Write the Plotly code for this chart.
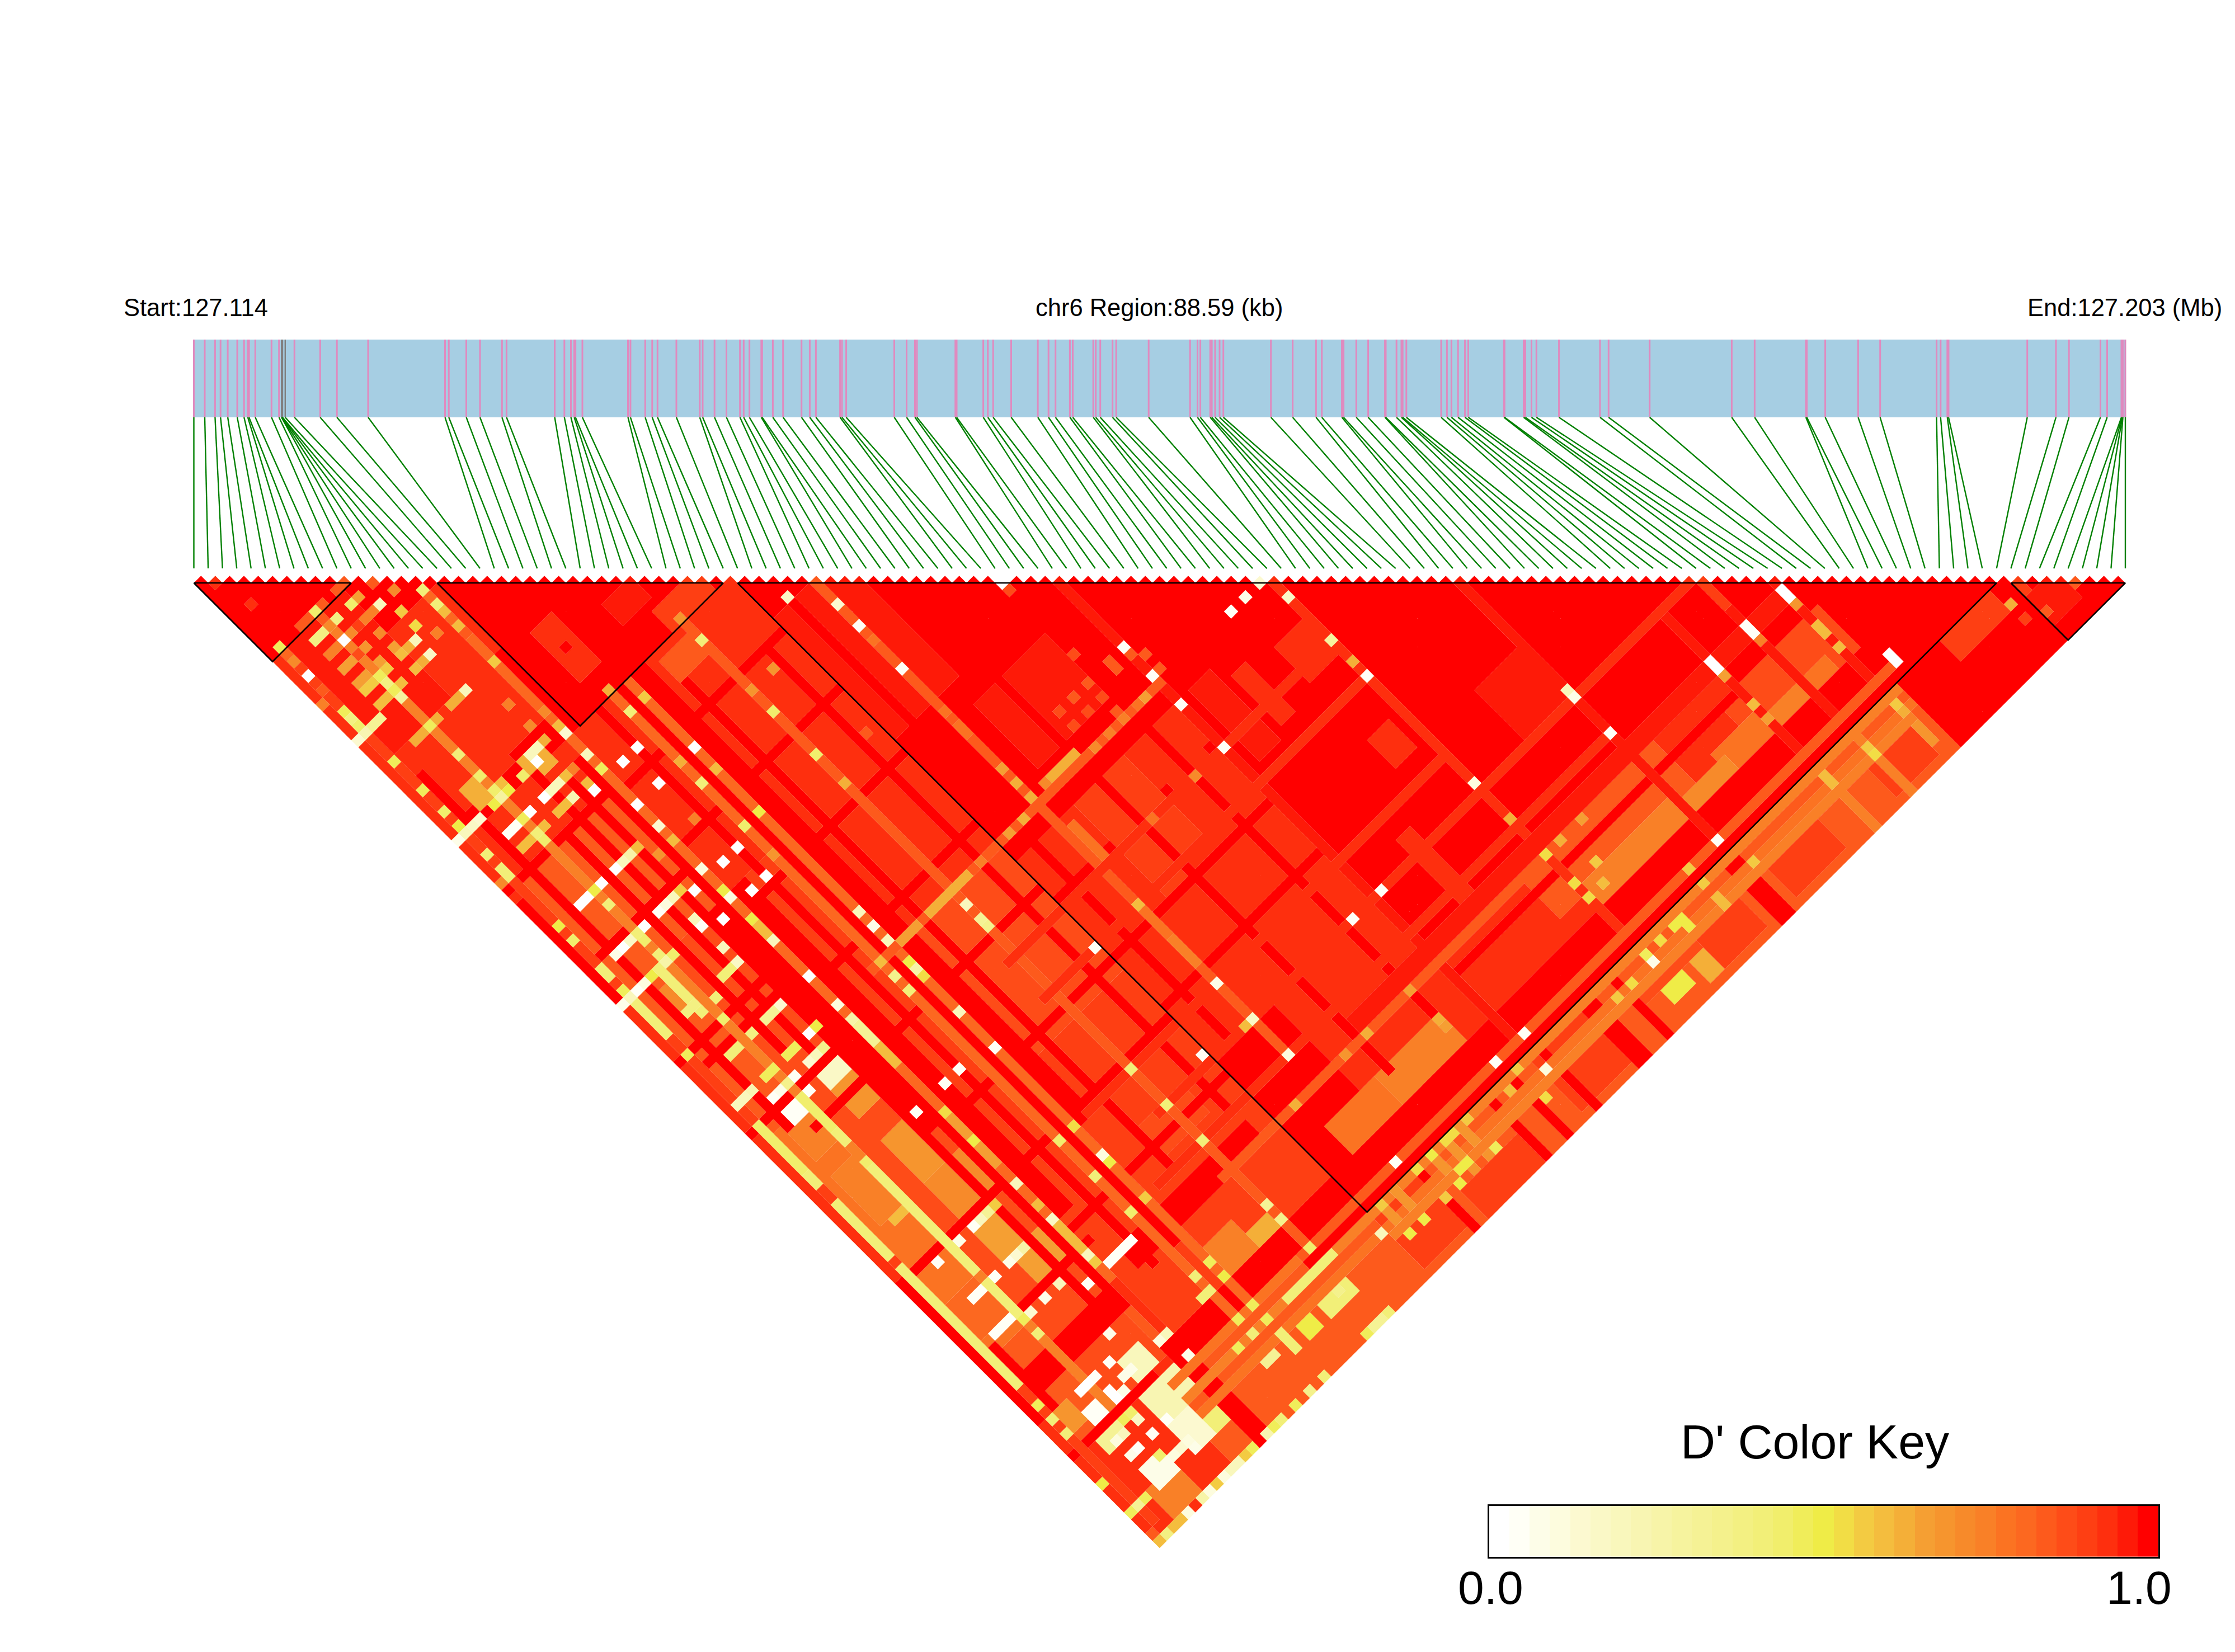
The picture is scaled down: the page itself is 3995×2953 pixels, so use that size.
import plotly.graph_objects as go

START_LABEL = "Start:127.114"
MID_LABEL = "chr6 Region:88.59 (kb)"
END_LABEL = "End:127.203 (Mb)"
KEY_TITLE = "D' Color Key"
KEY_LOW, KEY_HIGH = "0.0", "1.0"

# SNP offsets from the start of the region; the whole span is REGION_SPAN units
REGION_SPAN = 3452.5
SNP_OFFSETS = [
    0, 19.5, 37.9, 47.7, 60.6, 77.6, 89.7, 96.4, 98.6, 109.8, 138.8, 152.2, 156.7, 157.1, 157.9, 158.5,
    163.3, 179.8, 225.8, 255.7, 311.5, 449, 455.7, 487, 511.5, 550.8, 558.9, 645, 662.3, 674, 679.9, 682.1,
    694.5, 776, 780.4, 806.8, 819.3, 828.8, 862.5, 904.3, 909.5, 930.7, 952, 976.2, 982.8, 993.1, 1014.3,
    1015.8, 1034.9, 1053.2, 1086.2, 1100.9, 1111.9, 1155.1, 1158.5, 1166.1, 1252, 1274, 1289, 1292.5, 1361.2,
    1363.5, 1411.1, 1419.2, 1428.7, 1461, 1508.6, 1527.7, 1540.2, 1565.9, 1571, 1607.7, 1612.1, 1620.2,
    1642.1, 1648.7, 1706.7, 1780.7, 1794, 1799.1, 1816.7, 1819.6, 1825.5, 1833.5, 1840.2, 1925.2, 1964.1,
    2005.9, 2016.2, 2052.1, 2055.1, 2077.8, 2099.1, 2129.1, 2130.5, 2149.7, 2158.5, 2160.7, 2167.3, 2229.6,
    2239.9, 2247.9, 2259.7, 2272.1, 2278, 2341.8, 2342.8, 2377, 2380, 2391, 2399.8, 2440.1, 2513.5, 2528.8,
    2602.2, 2748.9, 2789.9, 2881.5, 2883.1, 2916.1, 2974.9, 3014.2, 3115.1, 3122.3, 3134.3, 3136.5, 3277.2,
    3328.5, 3351.7, 3408, 3420, 3445.5, 3446.4, 3447.2, 3448.1, 3452.5,
]
GREY_SNPS = [12, 13, 14, 15, 16]
LD_BLOCKS = [(0, 11), (17, 37), (38, 126), (127, 135)]

KEY_COLOURS = [
    "#FFFFFF", "#FFFFF6", "#FDFDE8", "#FDFCDE", "#FCF9D0", "#FAF8C6", "#F9F7BC", "#F8F5B2", "#F7F4A8", "#F6F39E",
    "#F5F295", "#F4F18C", "#F3F082", "#F2EF78", "#F1EE6C", "#F0ED5A", "#EFEC47", "#F2DD45", "#F3CB42", "#F4BD3E",
    "#F4AF38", "#F59F33", "#F6952E", "#F78A2A", "#F98027", "#FB7322", "#FC6820", "#FD5A1C", "#FE4C18", "#FE3F13",
    "#FE2F0E", "#FE1A08", "#FF0000",
]

# D' in percent, stored as (first i, last i, first j, last j, value) ranges of the SNP-pair matrix
BROAD_TONES = [
    (0, 37, 38, 135, 94), (0, 14, 44, 122, 84), (1, 5, 80, 110, 78), (7, 13, 60, 122, 86), (16, 37, 60, 100, 92),
    (16, 37, 100, 122, 90), (25, 37, 44, 90, 94), (25, 37, 76, 92, 88), (38, 60, 78, 105, 94), (46, 60, 105, 122, 94),
    (28, 33, 105, 108, 88), (60, 100, 112, 121, 94), (72, 90, 114, 119, 84), (11, 111, 127, 135, 85), (12, 37, 125, 135, 84),
    (38, 46, 44, 60, 97), (46, 56, 64, 72, 97), (1, 5, 24, 29, 94), (3, 9, 27, 35, 94), (10, 14, 27, 34, 94),
    (0, 0, 12, 135, 94), (2, 9, 12, 26, 96), (10, 16, 18, 26, 94), (19, 31, 38, 42, 94), (30, 37, 41, 44, 94),
    (27, 31, 39, 41, 84), (20, 22, 28, 34, 94), (27, 30, 31, 33, 97), (30, 35, 35, 37, 92), (2, 5, 46, 49, 84),
    (3, 5, 81, 84, 76), (3, 5, 87, 93, 76), (2, 5, 99, 104, 78), (2, 5, 104, 108, 80), (3, 6, 131, 134, 76),
    (4, 5, 62, 64, 72), (9, 12, 81, 84, 68), (9, 12, 88, 93, 68), (9, 13, 94, 98, 72), (9, 12, 100, 104, 66), (10, 13, 105, 108, 66),
    (2, 3, 119, 121, 68), (9, 13, 124, 127, 22), (9, 11, 128, 131, 12), (3, 5, 123, 125, 30), (12, 14, 129, 131, 42),
    (4, 6, 129, 131, 5), (10, 12, 120, 122, 20), (9, 11, 78, 80, 15), (4, 5, 121, 122, 2), (4, 5, 79, 80, 2),
    (4, 6, 34, 36, 62), (10, 12, 36, 38, 63), (71, 74, 81, 85, 94), (71, 73, 94, 97, 94), (82, 87, 98, 104, 97),
    (98, 111, 116, 122, 88), (105, 108, 120, 122, 78), (100, 104, 120, 122, 75), (94, 99, 119, 121, 78), (88, 94, 120, 122, 72),
    (80, 88, 119, 122, 76), (75, 84, 119, 122, 75), (48, 56, 118, 121, 76), (41, 47, 118, 121, 78),
    (28, 30, 120, 122, 62), (24, 27, 118, 121, 76), (74, 76, 132, 133, 50), (78, 81, 132, 134, 62), (28, 31, 130, 131, 42),
    (25, 26, 130, 131, 50), (118, 124, 127, 129, 92), (115, 119, 130, 133, 95), (112, 116, 131, 134, 97),
    (127, 130, 130, 133, 97), (60, 66, 128, 134, 90), (90, 96, 129, 134, 91), (72, 79, 129, 131, 88), (104, 109, 131, 134, 92),
    (80, 85, 131, 134, 92), (38, 43, 128, 134, 90), (46, 53, 132, 135, 90),
]
RED_BANDS = [
    (14, 15, 122, 135, 100), (0, 11, 123, 123, 100), (0, 14, 114, 116, 100), (16, 126, 122, 124, 100),
    (30, 115, 126, 126, 100), (44, 44, 126, 135, 100), (54, 54, 126, 135, 100), (57, 57, 126, 135, 100),
    (61, 61, 126, 135, 100), (67, 68, 126, 135, 100), (71, 71, 126, 135, 100), (87, 88, 126, 135, 100),
    (112, 126, 130, 135, 100), (13, 13, 60, 90, 100), (16, 17, 60, 105, 100), (1, 14, 70, 70, 100),
    (5, 15, 82, 82, 100), (7, 16, 109, 109, 100), (8, 8, 44, 75, 100), (18, 35, 112, 114, 100),
    # thin fully linked rows across the region left of the block
    (19, 19, 38, 115, 100), (22, 22, 38, 115, 100), (24, 25, 38, 100, 100), (27, 27, 42, 110, 100),
    (35, 35, 45, 110, 100), (40, 40, 44, 120, 100), (49, 49, 60, 118, 100),
    (56, 56, 60, 118, 100), (3, 3, 38, 80, 100), (10, 10, 38, 78, 100),
    (12, 12, 40, 115, 100), (14, 14, 40, 115, 100), (2, 2, 110, 118, 100), (0, 0, 46, 60, 100), (0, 0, 100, 118, 100),
    # thin fully linked columns
    (16, 37, 45, 45, 100), (16, 37, 53, 53, 100), (16, 37, 62, 62, 100), (16, 37, 72, 72, 100),
    (16, 37, 81, 81, 100), (16, 37, 91, 91, 100), (16, 37, 99, 99, 100), (16, 37, 107, 107, 100),
    (0, 14, 44, 44, 100), (0, 14, 55, 55, 100), (0, 14, 68, 68, 100), (0, 14, 78, 78, 100), (0, 14, 99, 99, 100),
    (38, 60, 83, 83, 100), (38, 60, 91, 91, 100), (38, 60, 98, 98, 100),
    (46, 60, 110, 110, 100), (60, 100, 116, 116, 100),
]
LOW_STRIPES = [
    (1, 1, 12, 135, 90), (6, 6, 13, 122, 76), (15, 15, 17, 113, 80), (21, 21, 38, 125, 82), (23, 23, 38, 125, 82),
    (31, 31, 38, 125, 84), (43, 43, 44, 110, 84), (60, 60, 61, 125, 96), (75, 75, 76, 125, 95), (88, 88, 89, 125, 96),
    (100, 100, 105, 125, 96), (105, 105, 106, 125, 96), (110, 110, 111, 125, 96), (57, 58, 78, 85, 94), (54, 55, 78, 87, 94),
    (50, 52, 78, 88, 92), (46, 48, 78, 90, 92), (66, 67, 80, 86, 94), (62, 64, 78, 87, 97), (66, 67, 103, 112, 94),
    (44, 44, 79, 84, 78), (43, 43, 90, 93, 78), (43, 43, 94, 97, 75), (15, 15, 90, 97, 65), (15, 15, 106, 109, 60),
    (15, 15, 63, 66, 58), (5, 5, 60, 66, 40),
    (25, 75, 100, 100, 94), (30, 75, 89, 89, 94), (30, 75, 84, 84, 94), (20, 60, 75, 75, 84), (30, 104, 105, 105, 94),
    (30, 80, 114, 114, 84), (50, 110, 112, 113, 96), (25, 88, 110, 110, 94), (12, 100, 125, 125, 78), (30, 112, 125, 125, 84),
    (12, 111, 127, 127, 75), (12, 111, 129, 129, 78), (26, 32, 127, 127, 42), (28, 33, 75, 75, 63), (45, 49, 74, 74, 63),
    (100, 104, 105, 105, 94), (105, 105, 106, 109, 92), (110, 110, 130, 133, 70), (1, 1, 78, 84, 45), (1, 1, 85, 86, 42),
    (1, 1, 89, 96, 42), (1, 1, 98, 103, 42), (1, 1, 104, 108, 42), (1, 1, 109, 114, 42), (1, 1, 60, 65, 42),
    (6, 6, 79, 83, 45), (6, 6, 84, 85, 42), (6, 6, 88, 98, 42), (6, 6, 97, 103, 40), (6, 6, 105, 110, 42),
    (23, 23, 129, 131, 40), (24, 26, 75, 75, 66), (100, 100, 127, 135, 74), (105, 105, 127, 135, 74), (50, 50, 127, 131, 70),
    (48, 48, 127, 131, 70), (46, 46, 127, 131, 70), (41, 41, 127, 131, 70), (39, 39, 127, 131, 70), (38, 110, 130, 130, 76),
]
# Single pairs as (i, j, value)
PAIR_VALUES = [
    (1, 11, 47), (2, 6, 94), (6, 11, 45), (4, 11, 85), (5, 11, 85), (7, 11, 85), (9, 11, 85), (10, 11, 85), (1, 2, 93),
    (10, 13, 66), (9, 13, 44), (7, 13, 38), (6, 13, 72), (6, 12, 84), (5, 13, 38), (4, 13, 38), (6, 15, 0), (7, 15, 72),
    (8, 15, 90), (11, 15, 20), (10, 15, 75), (9, 15, 75), (13, 15, 72), (12, 13, 84), (15, 17, 42), (12, 17, 55),
    (15, 19, 42), (15, 20, 58), (12, 19, 53), (13, 21, 76), (11, 20, 18), (10, 20, 62), (9, 20, 58), (9, 19, 66),
    (15, 22, 60), (15, 23, 84), (11, 22, 16), (10, 22, 63), (9, 22, 60), (9, 17, 72), (7, 17, 70), (6, 17, 86),
    (5, 17, 66), (4, 17, 66), (5, 15, 76), (4, 15, 76), (1, 13, 72), (1, 12, 82), (1, 15, 0), (1, 17, 85), (0, 18, 76),
    (7, 19, 66), (7, 20, 57), (5, 19, 66), (4, 19, 66), (4, 20, 56), (5, 20, 56), (6, 20, 48), (6, 21, 36), (6, 22, 46),
    (6, 23, 28), (7, 22, 60), (5, 22, 58), (4, 22, 58), (1, 20, 48), (1, 21, 38), (1, 22, 44), (1, 23, 22), (0, 23, 14),
    (2, 23, 30), (3, 23, 30), (1, 27, 47), (6, 27, 48), (7, 27, 62), (5, 27, 62), (4, 27, 62), (6, 31, 42), (9, 27, 62),
    (10, 27, 62), (11, 27, 20), (1, 31, 46), (15, 27, 55), (13, 31, 75), (15, 34, 72), (15, 36, 58), (15, 37, 12), (13, 34, 72),
    (1, 34, 45), (6, 34, 45), (1, 36, 50), (1, 37, 20), (2, 37, 15), (3, 37, 14), (0, 37, 5), (5, 37, 50), (6, 36, 44),
    (7, 37, 50), (6, 37, 28), (7, 36, 60), (9, 37, 45), (11, 36, 20), (11, 37, 0), (12, 36, 20), (13, 36, 62),
    (11, 40, 20), (10, 40, 20), (9, 40, 0), (12, 40, 60), (13, 40, 75), (11, 42, 22), (10, 42, 60), (9, 42, 60),
    (7, 40, 0), (6, 40, 48), (5, 40, 2), (4, 40, 2), (7, 42, 60), (6, 42, 42), (6, 43, 45), (5, 42, 60), (4, 42, 60),
    (1, 40, 42), (1, 42, 42), (1, 43, 42), (0, 43, 72), (15, 40, 20), (15, 42, 48), (13, 42, 60), (13, 43, 0),
    (17, 43, 0), (19, 43, 0), (18, 47, 0), (15, 47, 0), (15, 50, 12), (15, 52, 60), (23, 47, 0), (21, 47, 62), (23, 50, 58),
    (21, 50, 40), (21, 40, 42), (23, 40, 56), (21, 37, 64), (31, 40, 42), (31, 37, 70), (31, 47, 70), (34, 47, 70), (31, 50, 44),
    (31, 56, 44), (40, 43, 15), (43, 47, 14), (23, 56, 50), (21, 56, 45), (18, 52, 75), (19, 57, 0), (21, 60, 70),
    (17, 57, 0), (15, 56, 10), (19, 61, 0), (17, 61, 0), (15, 60, 10), (15, 59, 50), (13, 57, 0), (12, 56, 56), (13, 52, 70),
    (11, 56, 20), (10, 56, 10), (9, 56, 2), (12, 50, 60), (11, 50, 25), (10, 50, 18), (9, 50, 0), (7, 50, 0), (6, 50, 50),
    (5, 50, 0), (4, 50, 0), (6, 52, 42), (1, 50, 50), (1, 52, 45), (7, 56, 0), (6, 56, 42), (6, 57, 45), (5, 56, 15),
    (4, 56, 0), (3, 56, 5), (6, 59, 42), (7, 60, 44), (6, 60, 25), (4, 60, 50), (3, 60, 10), (2, 60, 3), (1, 60, 18), (0, 60, 5),
    (11, 59, 20), (11, 60, 2), (13, 61, 0), (15, 66, 18), (15, 63, 50), (11, 63, 20), (11, 65, 16), (10, 65, 42), (9, 65, 42),
    (15, 71, 0), (1, 56, 42), (1, 57, 40), (1, 59, 48), (21, 31, 100), (1, 68, 47),
    (1, 75, 20), (2, 75, 20), (3, 75, 22), (5, 75, 46), (6, 75, 46), (8, 75, 46), (9, 75, 48), (11, 75, 0), (12, 75, 50),
    (4, 77, 4), (5, 77, 5), (7, 77, 3), (6, 77, 35), (9, 77, 14), (10, 77, 20), (11, 77, 35), (7, 79, 4),
    (9, 71, 30), (10, 71, 30), (11, 71, 14), (7, 71, 38), (4, 71, 42), (5, 71, 42), (4, 65, 38), (5, 65, 38), (7, 66, 42), (6, 68, 45),
    (15, 75, 10), (15, 77, 25), (15, 78, 30), (15, 79, 30), (15, 80, 30), (15, 81, 58), (15, 82, 58), (15, 83, 58), (21, 79, 42),
    (23, 84, 20), (23, 89, 2), (19, 88, 2), (17, 88, 2), (13, 88, 2), (15, 90, 52), (15, 94, 50), (15, 100, 20), (15, 103, 58),
    (15, 105, 15), (21, 100, 45), (23, 100, 52), (23, 104, 10), (23, 105, 50), (21, 105, 42), (31, 100, 42), (31, 105, 42),
    (23, 110, 55), (21, 110, 45), (19, 112, 2), (18, 112, 2), (17, 112, 2), (16, 112, 2), (15, 110, 20), (15, 111, 55), (13, 112, 2),
    (11, 110, 20), (9, 110, 5), (10, 105, 12), (9, 105, 5), (11, 105, 25), (7, 105, 3), (4, 105, 3), (5, 105, 3), (4, 100, 3), (7, 100, 5),
    (4, 94, 60), (5, 94, 60), (11, 100, 30), (10, 100, 20), (9, 100, 3), (12, 100, 55), (6, 88, 45),
    (4, 109, 3), (3, 109, 3), (5, 109, 3), (7, 110, 12), (6, 112, 42), (11, 117, 5), (6, 110, 46),
    (5, 119, 0), (6, 119, 0), (7, 121, 0), (7, 122, 0), (8, 122, 5), (7, 119, 2), (9, 119, 2), (9, 121, 5), (10, 121, 5),
    (7, 124, 45), (7, 125, 15), (6, 124, 46), (4, 125, 10), (5, 125, 18), (9, 127, 2), (7, 127, 2), (5, 127, 2), (4, 127, 5),
    (7, 130, 8), (8, 130, 12), (6, 129, 44), (9, 130, 10), (9, 131, 5), (1, 117, 47), (1, 119, 40), (1, 121, 40), (0, 127, 50),
    (0, 131, 46), (1, 131, 30), (2, 131, 47), (4, 135, 8), (6, 135, 25), (7, 135, 8), (8, 135, 55), (9, 135, 8), (10, 135, 20),
    (11, 135, 20), (12, 135, 55), (13, 135, 47), (15, 135, 22), (16, 135, 48), (17, 135, 42), (19, 135, 47), (21, 135, 35),
    (23, 135, 42), (0, 135, 58), (1, 135, 38), (2, 135, 60), (3, 135, 60), (0, 134, 84), (1, 134, 94),
    (43, 100, 5), (43, 105, 15), (42, 105, 60), (37, 104, 2), (43, 110, 8), (56, 114, 66), (50, 114, 62), (47, 114, 70), (40, 114, 63),
    (31, 110, 42), (56, 118, 62), (56, 119, 66), (43, 125, 2), (57, 125, 2), (61, 125, 2), (60, 129, 8), (37, 129, 18), (39, 131, 50),
    (58, 131, 52), (58, 127, 55), (56, 128, 60), (48, 130, 50), (47, 130, 50), (46, 131, 50), (44, 131, 55), (49, 127, 52), (48, 127, 52),
    (51, 127, 55), (51, 131, 48), (46, 127, 50), (44, 127, 52), (39, 127, 55), (41, 131, 50), (31, 125, 45), (30, 130, 35),
    (29, 135, 47), (30, 135, 30), (31, 135, 30), (32, 135, 42), (31, 121, 35), (31, 119, 30), (23, 119, 48), (21, 119, 42), (23, 121, 50),
    (21, 121, 42), (20, 121, 42), (15, 121, 20), (14, 121, 10), (15, 124, 6), (23, 125, 46), (21, 125, 48), (23, 127, 46), (21, 127, 40),
    (19, 127, 47), (21, 130, 30), (20, 130, 30),
    (110, 112, 0), (110, 113, 0), (110, 114, 68), (105, 112, 3), (105, 113, 3), (105, 114, 75), (100, 112, 0), (100, 113, 0), (100, 114, 65),
    (88, 105, 5), (88, 104, 20), (88, 110, 2), (113, 124, 0), (113, 125, 0), (88, 125, 2), (125, 129, 62), (110, 117, 60), (110, 118, 60), (110, 120, 60),
    (110, 128, 56), (110, 129, 62), (105, 129, 56), (105, 130, 52), (100, 128, 58), (100, 129, 58), (100, 118, 60), (100, 120, 65),
    (89, 129, 55), (75, 114, 53), (75, 109, 63), (80, 114, 65), (77, 114, 63), (75, 118, 52), (75, 120, 52), (78, 118, 55), (77, 120, 60),
    (79, 128, 50), (80, 128, 50), (80, 129, 50), (77, 128, 52), (75, 128, 48), (75, 129, 5), (72, 129, 52), (70, 129, 55), (84, 125, 55), (84, 127, 55),
    (84, 129, 58), (84, 130, 60), (125, 131, 92), (131, 132, 84), (127, 128, 90), (127, 129, 90), (127, 132, 85),
    (56, 57, 0), (56, 58, 88), (74, 75, 12), (72, 75, 6), (70, 75, 2), (75, 78, 15), (75, 84, 28), (75, 87, 62), (75, 89, 2),
    (60, 70, 2), (60, 71, 84), (60, 74, 2), (60, 78, 2), (58, 75, 66), (57, 75, 78), (43, 56, 2), (43, 50, 2), (60, 84, 2),
    (75, 104, 10), (61, 105, 2), (57, 105, 2), (37, 89, 2), (43, 89, 60), (31, 79, 30), (31, 80, 35), (31, 77, 20), (23, 70, 20),
    (23, 72, 5), (23, 74, 20), (23, 77, 50), (23, 78, 25), (23, 79, 52), (21, 77, 35), (21, 75, 58), (43, 70, 66), (43, 72, 62),
    (43, 74, 62), (45, 74, 72), (41, 75, 62), (39, 75, 66), (31, 60, 62), (43, 62, 78), (43, 64, 78), (43, 65, 78), (43, 52, 78), (35, 75, 75),
    (51, 75, 72), (53, 75, 75), (55, 75, 74), (56, 84, 72), (50, 84, 78), (53, 70, 84), (53, 72, 86), (55, 72, 86), (55, 74, 84), (51, 70, 86),
    (51, 72, 88), (56, 67, 88), (55, 70, 84), (61, 72, 85), (61, 74, 85), (58, 71, 84), (58, 70, 84), (36, 58, 84), (21, 31, 100),
]

N_SNPS = len(SNP_OFFSETS)

# Fill the upper triangle of the D' matrix from the ranges and pairs above
d_prime = [[100] * N_SNPS for _ in range(N_SNPS)]
for table in (BROAD_TONES, RED_BANDS, LOW_STRIPES):
    for i0, i1, j0, j1, value in table:
        for i in range(i0, i1 + 1):
            for j in range(max(j0, i + 1), j1 + 1):
                if j < N_SNPS:
                    d_prime[i][j] = value
for i, j, value in PAIR_VALUES:
    d_prime[i][j] = value

# One filled trace per colour-key step; each pair is a diamond in SNP units
paths = {level: ([], []) for level in range(len(KEY_COLOURS))}
for i in range(N_SNPS - 1):
    for j in range(i + 1, N_SNPS):
        level = int(d_prime[i][j] / 100 * (len(KEY_COLOURS) - 1) + 0.5)
        xs, ys = paths[level]
        cx, cy = (i + j) / 2, j - i
        xs += [cx - 0.5, cx, cx + 0.5, cx, cx - 0.5, None]
        ys += [cy, cy - 1, cy, cy + 1, cy, None]

UNITS_PER_SPAN = (N_SNPS - 1) / REGION_SPAN
track_x = [o * UNITS_PER_SPAN for o in SNP_OFFSETS]

BAR_TOP, BAR_BOTTOM, LEADER_END = -33.04, -22.16, -1.03

fig = go.Figure()

fig.add_trace(go.Scatter(
    x=[0, N_SNPS - 1, N_SNPS - 1, 0, 0], y=[BAR_TOP, BAR_TOP, BAR_BOTTOM, BAR_BOTTOM, BAR_TOP],
    mode="lines", fill="toself", fillcolor="#A6CEE3", line=dict(width=0), hoverinfo="skip",
))

pink_x, pink_y, grey_x, grey_y = [], [], [], []
leader_x, leader_y = [], []
for idx, tx in enumerate(track_x):
    if idx in GREY_SNPS:
        grey_x += [tx, tx, None]
        grey_y += [BAR_TOP, BAR_BOTTOM, None]
    else:
        pink_x += [tx, tx, None]
        pink_y += [BAR_TOP, BAR_BOTTOM, None]
    leader_x += [tx, idx, None]
    leader_y += [BAR_BOTTOM, LEADER_END, None]

fig.add_trace(go.Scatter(x=pink_x, y=pink_y, mode="lines", line=dict(color="#E08ABF", width=3), hoverinfo="skip"))
fig.add_trace(go.Scatter(x=grey_x, y=grey_y, mode="lines", line=dict(color="#808080", width=2.4), hoverinfo="skip"))
fig.add_trace(go.Scatter(x=leader_x, y=leader_y, mode="lines", line=dict(color="#008000", width=2.4), hoverinfo="skip"))

for level, (xs, ys) in paths.items():
    if xs:
        fig.add_trace(go.Scatter(
            x=xs, y=ys, mode="lines", fill="toself", fillcolor=KEY_COLOURS[level],
            line=dict(width=0), hoverinfo="skip",
        ))

for first, last in LD_BLOCKS:
    fig.add_trace(go.Scatter(
        x=[first, last, (first + last) / 2, first],
        y=[1, 1, 1 + last - first, 1],
        mode="lines", line=dict(color="#000000", width=2.6), hoverinfo="skip",
    ))

# Colour key: a one-row heatmap on its own axes
levels = list(range(len(KEY_COLOURS)))
scale = []
for k, colour in enumerate(KEY_COLOURS):
    scale += [[k / len(KEY_COLOURS), colour], [(k + 1) / len(KEY_COLOURS), colour]]
fig.add_trace(go.Heatmap(
    z=[levels], x=levels, y=[0], zmin=-0.5, zmax=len(KEY_COLOURS) - 0.5,
    colorscale=scale, showscale=False, xaxis="x2", yaxis="y2", hoverinfo="skip",
))

W, H = 3995, 2953
FONT = "Liberation Sans"

def note(text, px, py, size):
    fig.add_annotation(
        text=text, x=px / W, y=1 - py / H, xref="paper", yref="paper",
        showarrow=False, xanchor="center", yanchor="middle",
        font=dict(family=FONT, size=size, color="#000000"),
    )

note(START_LABEL, 349.5, 550, 43.5)
note(MID_LABEL, 2072, 550, 43.5)
note(END_LABEL, 3798, 550, 43.5)
note(KEY_TITLE, 3244, 2577, 86)
note(KEY_LOW, 2664, 2838, 84)
note(KEY_HIGH, 3823, 2838, 84)

fig.update_layout(
    width=W, height=H, autosize=False, showlegend=False,
    margin=dict(l=0, r=0, t=0, b=0), paper_bgcolor="#FFFFFF", plot_bgcolor="rgba(0,0,0,0)",
    xaxis=dict(range=[-346.5 / 25.574, (W - 346.5) / 25.574], visible=False, domain=[0, 1]),
    yaxis=dict(range=[1 + (H - 1042) / 12.78, 1 - 1042 / 12.78], visible=False, domain=[0, 1]),
    xaxis2=dict(domain=[2661.6 / W, 3858 / W], anchor="y2", range=[-0.5, len(KEY_COLOURS) - 0.5],
                showticklabels=False, ticks="", showgrid=False, zeroline=False,
                showline=True, mirror=True, linecolor="#000000", linewidth=3),
    yaxis2=dict(domain=[1 - 2783 / H, 1 - 2691.6 / H], anchor="x2", range=[-0.5, 0.5],
                showticklabels=False, ticks="", showgrid=False, zeroline=False,
                showline=True, mirror=True, linecolor="#000000", linewidth=3),
)

fig.write_html("out.html")
